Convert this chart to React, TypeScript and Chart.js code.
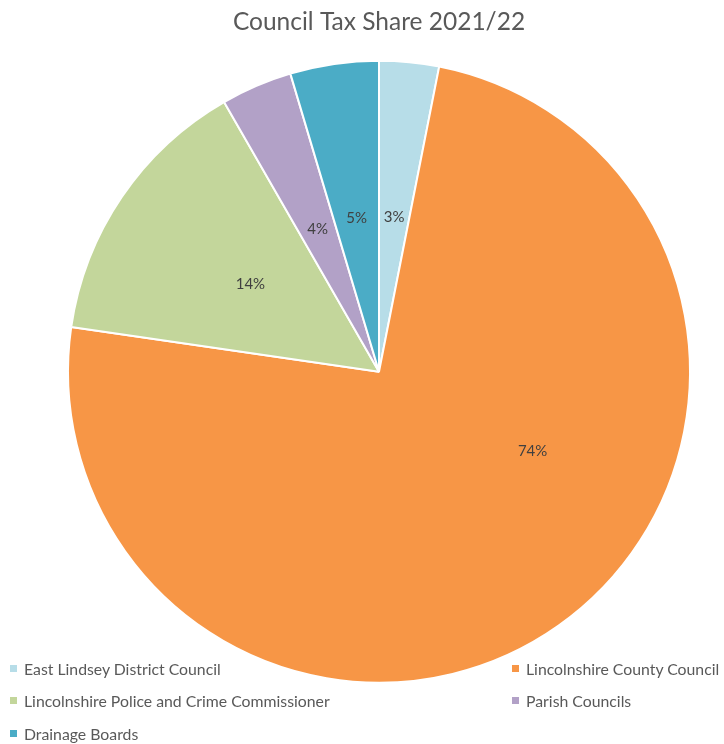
import React, { useEffect, useRef } from "react";
import { Chart, registerables } from "chart.js";

Chart.register(...registerables);

const categories = [
  "East Lindsey District Council",
  "Lincolnshire County Council",
  "Lincolnshire Police and Crime Commissioner",
  "Parish Councils",
  "Drainage Boards",
];
const shares = [3.1, 74.2, 14.4, 3.7, 4.6];
const labels = ["3%", "74%", "14%", "4%", "5%"];
const colors = ["#b7dde8", "#f79646", "#c3d69b", "#b2a1c7", "#4bacc6"];

// label placement tweaks (Excel "best fit" style), per slice index
const labelPlacement: Record<number, { shiftDeg: number; rFrac: number }> = {
  1: { shiftDeg: -27.4, rFrac: 0.556 },
};

const FONT = "Lato, 'Open Sans', sans-serif";

const sliceLabels = {
  id: "sliceLabels",
  afterDatasetsDraw(chart: any) {
    const ctx = chart.ctx;
    const meta = chart.getDatasetMeta(0);
    ctx.save();
    ctx.font = `15px ${FONT}`;
    ctx.fillStyle = "#404040";
    ctx.textAlign = "center";
    ctx.textBaseline = "middle";
    meta.data.forEach((arc: any, i: number) => {
      const p = arc.getProps(["x", "y", "startAngle", "endAngle", "outerRadius"], true);
      const adj = labelPlacement[i] || { shiftDeg: 0, rFrac: 0.5 };
      const mid = (p.startAngle + p.endAngle) / 2 + (adj.shiftDeg * Math.PI) / 180;
      const r = p.outerRadius * adj.rFrac;
      ctx.fillText(labels[i], p.x + Math.cos(mid) * r, p.y + Math.sin(mid) * r);
    });
    ctx.restore();
  },
};

export default function App() {
  const ref = useRef<HTMLCanvasElement>(null);
  useEffect(() => {
    document.body.style.margin = "0";
    const chart = new Chart(ref.current!, {
      type: "pie",
      data: {
        labels: categories,
        datasets: [
          {
            data: shares,
            backgroundColor: colors,
            borderColor: "#ffffff",
            borderWidth: 2,
          },
        ],
      },
      options: {
        responsive: false,
        animation: false,
        radius: 311,
        layout: { padding: { left: 68, right: 34, top: 0, bottom: 45 } },
        plugins: {
          legend: { display: false },
          tooltip: { enabled: false },
          title: {
            display: true,
            text: "Council Tax Share 2021/22",
            color: "#595959",
            font: { family: FONT, size: 24.5, weight: "normal" },
            padding: { top: 7, bottom: 8 },
          },
        },
      } as any,
      plugins: [sliceLabels],
    });
    return () => chart.destroy();
  }, []);

  const legendPos = [
    { left: 10, top: 668 },
    { left: 512, top: 668 },
    { left: 10, top: 700 },
    { left: 512, top: 700 },
    { left: 10, top: 733 },
  ];

  return (
    <div style={{ position: "absolute", left: 0, top: 0, width: 724, height: 744, background: "#fff" }}>
      <canvas ref={ref} width={724} height={744} style={{ display: "block" }} />
      {categories.map((c, i) => (
        <div
          key={c}
          style={{
            position: "absolute",
            left: legendPos[i].left,
            top: legendPos[i].top - 10,
            height: 20,
            display: "flex",
            alignItems: "center",
            whiteSpace: "nowrap",
            fontFamily: FONT,
            fontSize: 15.8,
            color: "#595959",
          }}
        >
          <span style={{ display: "inline-block", width: 7, height: 7, background: colors[i], marginRight: 7 }} />
          {c}
        </div>
      ))}
    </div>
  );
}
